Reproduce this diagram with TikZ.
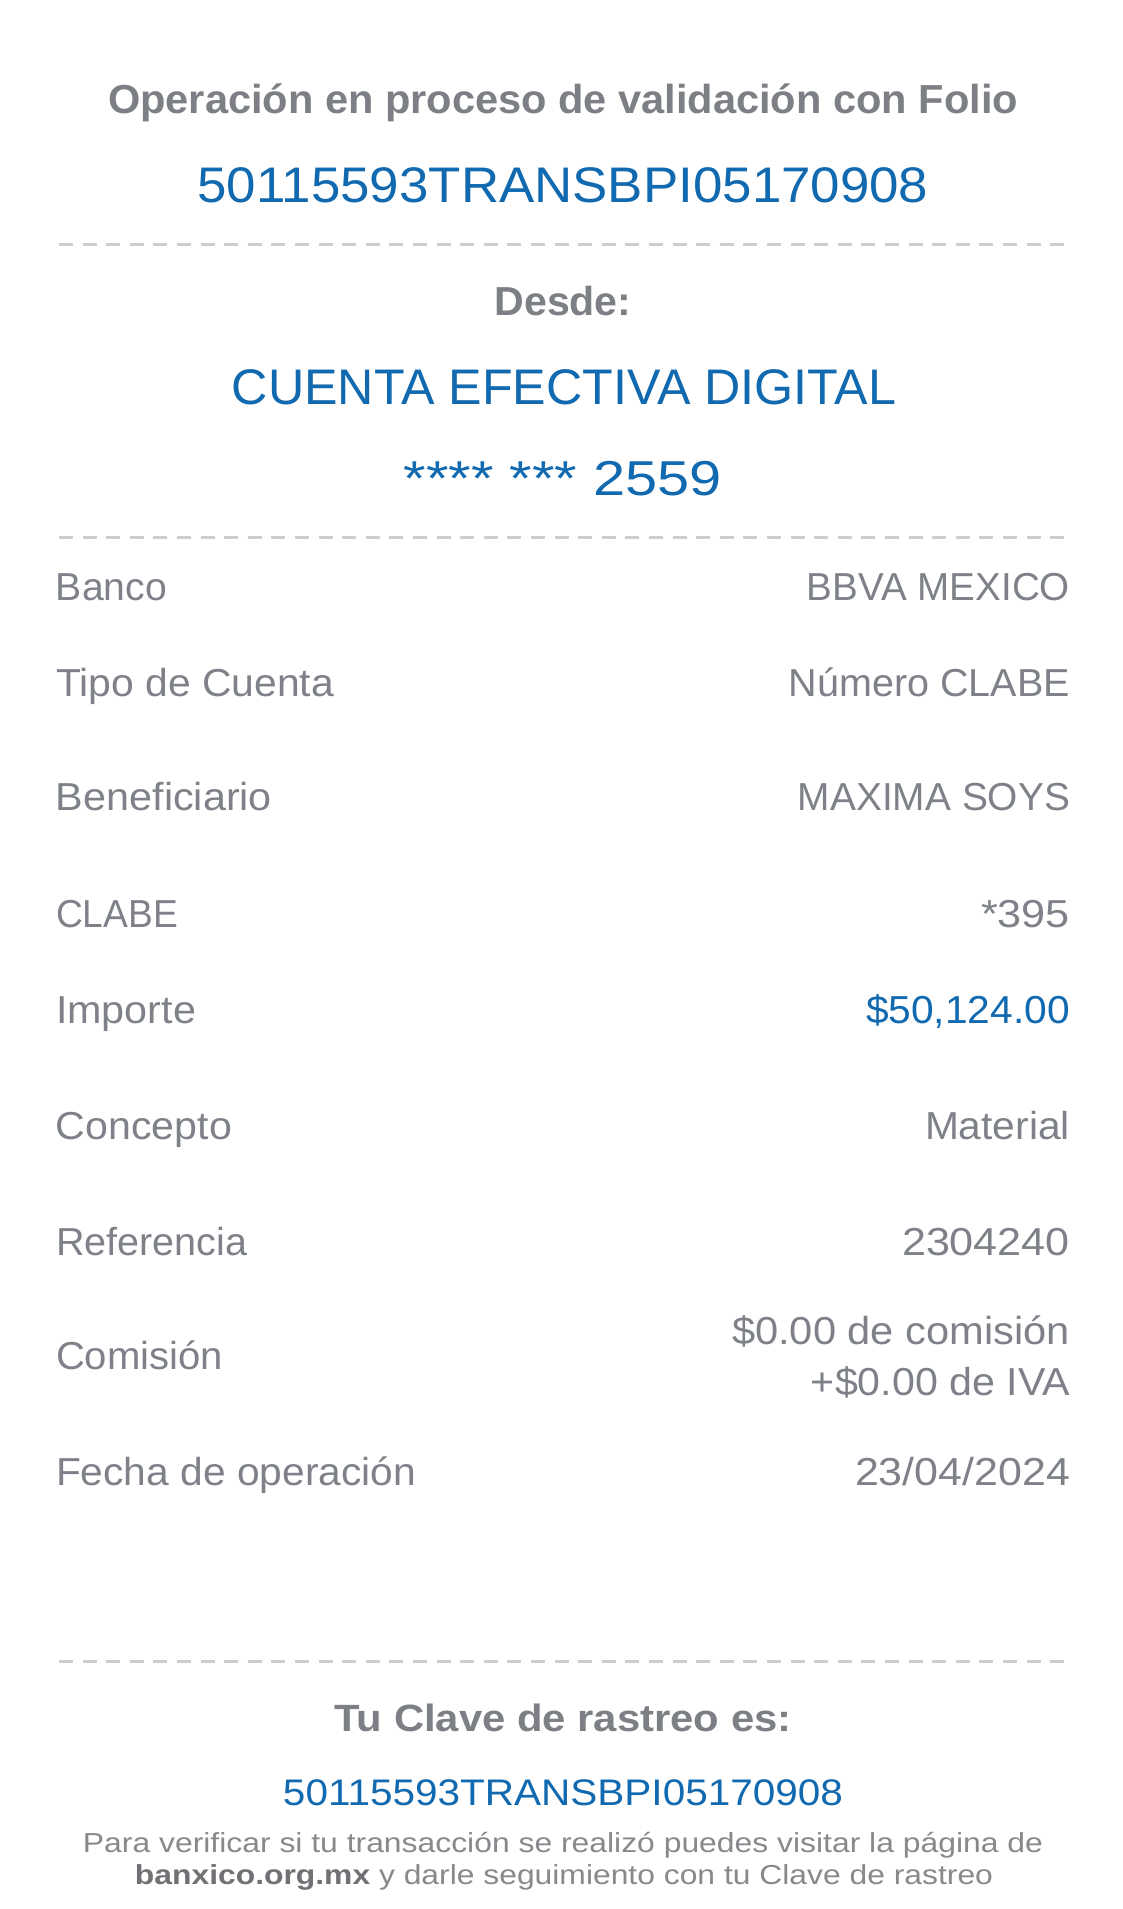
\documentclass[tikz,border=0pt]{standalone}
\usepackage{fontspec}
\usepackage{graphicx}
\setmainfont{Liberation Sans}
\definecolor{hgray}{HTML}{7C7F84}
\definecolor{tgray}{HTML}{7E8288}
\definecolor{fgray}{HTML}{87898C}
\definecolor{bgray}{HTML}{6F7175}
\definecolor{tblue}{HTML}{1169B0}
\definecolor{dgray}{HTML}{CDCDCD}
\newcommand\fw[2]{\resizebox{#1pt}{\height}{#2}}
\tikzset{
  x=1pt, y=-1pt,
  txt/.style={inner sep=0pt, outer sep=0pt},
  head/.style={txt, anchor=base, text=hgray, font=\bfseries\fontsize{40.5}{48}\selectfont},
  bigblue/.style={txt, anchor=base, text=tblue, font=\fontsize{50}{60}\selectfont},
  lab/.style={txt, anchor=base west, text=tgray, font=\fontsize{39}{46}\selectfont},
  val/.style={txt, anchor=base east, text=tgray, font=\fontsize{39}{46}\selectfont},
  foot/.style={txt, anchor=base, text=fgray, font=\fontsize{27.5}{32}\selectfont},
  dashline/.style={draw=dgray, line width=3pt, dash pattern=on 14pt off 9.6pt}
}
\begin{document}
\begin{tikzpicture}
\useasboundingbox[fill=white] (0,0) rectangle (1122,1909);

% header
\node[head] (title) at (563,113) {\fw{910}{Operación en proceso de validación con Folio}};
\node[bigblue] (folio) at (563,202) {\fw{731}{50115593TRANSBPI05170908}};
\coordinate (d1a) at (59,244); \coordinate (d1b) at (1066,244);
\draw[dashline] (d1a) -- (d1b);

\node[head] (desde) at (563,315) {\fw{137}{Desde:}};
\node[bigblue] (cuenta) at (564,404) {\fw{664}{CUENTA EFECTIVA DIGITAL}};
\node[bigblue, font=\fontsize{49}{58}\selectfont] (num) at (563,495) {\fw{318}{**** *** 2559}};
\coordinate (d2a) at (59,537); \coordinate (d2b) at (1066,537);
\draw[dashline] (d2a) -- (d2b);

% rows
\node[lab] (l1) at (56,600) {\fw{111}{Banco}};
\node[val] (v1) at (1070,600) {\fw{263}{BBVA MEXICO}};
\node[lab] (l2) at (56,696) {\fw{278}{Tipo de Cuenta}};
\node[val] (v2) at (1070,696) {\fw{281}{Número CLABE}};
\node[lab] (l3) at (56,810) {\fw{216}{Beneficiario}};
\node[val] (v3) at (1070,810) {\fw{272}{MAXIMA SOYS}};
\node[lab] (l4) at (56,927) {\fw{122}{CLABE}};
\node[val] (v4) at (1070,927) {\fw{89}{*395}};
\node[lab] (l5) at (56,1023) {\fw{140}{Importe}};
\node[val, text=tblue] (v5) at (1070,1023) {\fw{204}{\$50,124.00}};
\node[lab] (l6) at (56,1139) {\fw{176}{Concepto}};
\node[val] (v6) at (1070,1139) {\fw{145}{Material}};
\node[lab] (l7) at (56,1255) {\fw{191}{Referencia}};
\node[val] (v7) at (1070,1255) {\fw{168}{2304240}};
\node[lab] (l8) at (56,1369) {\fw{167}{Comisión}};
\node[val] (v8a) at (1070,1344) {\fw{338}{\$0.00 de comisión}};
\node[val] (v8b) at (1070,1395) {\fw{259}{+\$0.00 de IVA}};
\node[lab] (l9) at (56,1485) {\fw{360}{Fecha de operación}};
\node[val] (v9) at (1070,1485) {\fw{215}{23/04/2024}};

\coordinate (d3a) at (59,1661); \coordinate (d3b) at (1066,1661);
\draw[dashline] (d3a) -- (d3b);

% footer
\node[head, font=\bfseries\fontsize{38}{46}\selectfont] (clave) at (563,1731) {\fw{457}{Tu Clave de rastreo es:}};
\node[bigblue, font=\fontsize{37}{44}\selectfont] (rastreo) at (563,1805) {\fw{560}{50115593TRANSBPI05170908}};
\node[foot] (f1) at (563,1852) {\fw{960}{Para verificar si tu transacción se realizó puedes visitar la página de}};
\node[foot] (f2) at (564,1884) {\fw{858}{\textcolor{bgray}{\bfseries banxico.org.mx} y darle seguimiento con tu Clave de rastreo}};
\end{tikzpicture}
\end{document}
